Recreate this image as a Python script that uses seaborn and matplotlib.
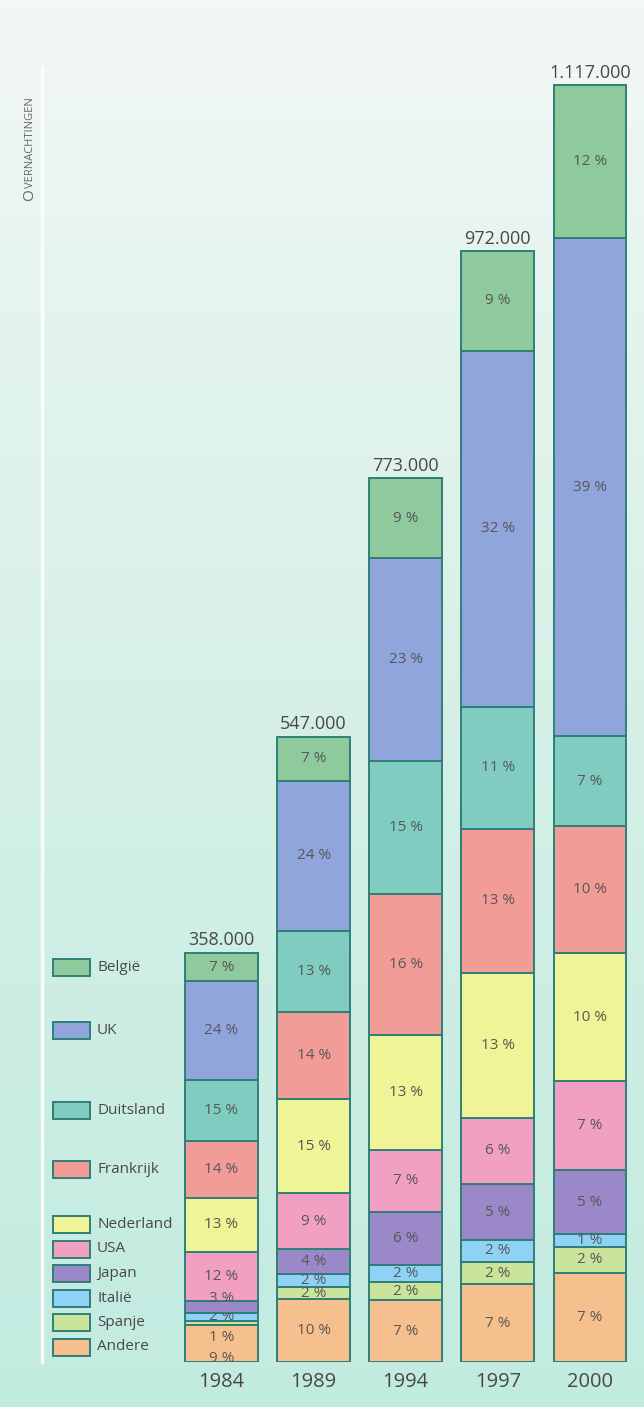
import numpy as np
import matplotlib
matplotlib.use("Agg")
import matplotlib.pyplot as plt
from matplotlib.patches import Rectangle
from matplotlib.colors import LinearSegmentedColormap
import seaborn as sns

# ---------------- data ----------------
years = ["1984", "1989", "1994", "1997", "2000"]
totals = [358000, 547000, 773000, 972000, 1117000]
total_labels = ["358.000", "547.000", "773.000", "972.000", "1.117.000"]

# stacked from bottom to top
countries = ["Andere", "Spanje", "Italië", "Japan", "USA",
             "Nederland", "Frankrijk", "Duitsland", "UK", "België"]
pct_andere = [9, 10, 7, 7, 7]
pct_spanje = [1, 2, 2, 2, 2]
pct_italie = [2, 2, 2, 2, 1]
pct_japan = [3, 4, 6, 5, 5]
pct_usa = [12, 9, 7, 6, 7]
pct_nederland = [13, 15, 13, 13, 10]
pct_frankrijk = [14, 14, 16, 13, 10]
pct_duitsland = [15, 13, 15, 11, 7]
pct_uk = [24, 24, 23, 32, 39]
pct_belgie = [7, 7, 9, 9, 12]
pcts = dict(zip(countries, [pct_andere, pct_spanje, pct_italie, pct_japan, pct_usa,
                            pct_nederland, pct_frankrijk, pct_duitsland, pct_uk, pct_belgie]))

colors = {
    "België": "#8fca9c",
    "UK": "#8fa5dc",
    "Duitsland": "#80ccc0",
    "Frankrijk": "#f29c98",
    "Nederland": "#eff497",
    "USA": "#f2a0c2",
    "Japan": "#9b88c9",
    "Italië": "#90d2f6",
    "Spanje": "#cbe49c",
    "Andere": "#f6c08e",
}
edge = "#2f7f78"
text_col = "#484848"

# label tweaks (points) and clipping for tiny segments
label_offsets = {("1984", "Spanje"): -10, ("1984", "Andere"): -11, ("1984", "Japan"): 6}
clipped = {("1984", "Italië"), ("1984", "Andere"), ("1994", "Italië"), ("2000", "Italië")}

# ---------------- figure ----------------
sns.set_style("white")
plt.rcParams["font.family"] = ["Open Sans", "DejaVu Sans"]

W_PX, H_PX = 644, 1407
fig = plt.figure(figsize=(W_PX / 100, H_PX / 100), dpi=100)

# background gradient
bg = fig.add_axes([0, 0, 1, 1])
cmap = LinearSegmentedColormap.from_list(
    "bg", [(0.0, "#f4f8f5"), (0.15, "#e8f5f0"), (0.5, "#d6f0e8"), (1.0, "#c2ebe0")])
grad = np.linspace(0, 1, 256).reshape(-1, 1)
bg.imshow(grad, aspect="auto", cmap=cmap, extent=[0, 1, 0, 1], origin="upper")
bg.axis("off")

base_px, top_px, left_px = 1362, 67, 42
px_per_unit = 1.143 / 1000
px_per_cat = 92.1
c0_px = 221.5

ax = fig.add_axes([left_px / W_PX, (H_PX - base_px) / H_PX,
                   1 - left_px / W_PX, (base_px - top_px) / H_PX])
ax.set_facecolor("none")

bottom = np.zeros(len(years))
seg_info = []
for c in countries:
    vals = np.array(totals, dtype=float) * np.array(pcts[c]) / 100.0
    n_before = len(ax.patches)
    sns.barplot(x=years, y=vals, bottom=bottom.copy(), color=colors[c], width=0.79,
                edgecolor=edge, linewidth=1.4, saturation=1, ax=ax, zorder=2)
    new_patches = ax.patches[n_before:]
    for i, y in enumerate(years):
        seg_info.append((y, c, i, bottom[i] + vals[i] / 2, pcts[c][i],
                         new_patches[i] if i < len(new_patches) else None))
    bottom = bottom + vals

# percent labels
for y, c, i, yc, p, patch in seg_info:
    off = label_offsets.get((y, c), 0)
    t = ax.annotate(f"{p} %", (i, yc), xytext=(0, off), textcoords="offset points",
                    ha="center", va="center", fontsize=11, color="#575757", zorder=5)
    if (y, c) in clipped and patch is not None:
        t.set_clip_path(patch)

# totals
for i, lab in enumerate(total_labels):
    ax.annotate(lab, (i, totals[i]), xytext=(0, 2.5), textcoords="offset points",
                ha="center", va="bottom", fontsize=13, color=text_col)

# axes limits and styling
ax.set_xlim((left_px - c0_px) / px_per_cat, (W_PX - c0_px) / px_per_cat)
ax.set_ylim(0, (base_px - top_px) / px_per_unit)
for s in ["top", "right", "bottom"]:
    ax.spines[s].set_visible(False)
ax.spines["left"].set_color("white")
ax.spines["left"].set_linewidth(2.5)
ax.spines["left"].set_alpha(0.85)
ax.set_yticks([])
ax.set_xlabel("")
ax.set_ylabel("")
ax.tick_params(axis="x", length=0, pad=7, labelsize=14.5, labelcolor=text_col)

# legend (custom, aligned with the 1984 bar)
legend_order = ["België", "UK", "Duitsland", "Frankrijk", "Nederland",
                "USA", "Japan", "Italië", "Spanje", "Andere"]
cum1984 = {}
acc = 0.0
for c in countries:
    v = totals[0] * pcts[c][0] / 100.0
    cum1984[c] = acc + v / 2
    acc += v
legend_y = {}
for c in ["België", "UK", "Duitsland", "Frankrijk"]:
    legend_y[c] = cum1984[c]
step = 24.5 / px_per_unit
start = 15 / px_per_unit
for k, c in enumerate(["Andere", "Spanje", "Italië", "Japan", "USA", "Nederland"]):
    legend_y[c] = start + k * step

px_x = lambda px: (px - c0_px) / px_per_cat
box_h = 17 / px_per_unit
for c in legend_order:
    yc = legend_y[c]
    ax.add_patch(Rectangle((px_x(53), yc - box_h / 2), px_x(90) - px_x(53), box_h,
                           facecolor=colors[c], edgecolor=edge, linewidth=1.4,
                           clip_on=False, zorder=3))
    ax.text(px_x(97), yc, c, ha="left", va="center", fontsize=11, color=text_col,
            clip_on=False)

# vertical small-caps title
fig.text(33 / W_PX, (H_PX - 201) / H_PX, "O", rotation=90, rotation_mode="anchor",
         ha="left", va="baseline", fontsize=11, color="#666666")
fig.text(33 / W_PX, (H_PX - 188) / H_PX, "VERNACHTINGEN", rotation=90,
         rotation_mode="anchor", ha="left", va="baseline", fontsize=8, color="#666666")

fig.savefig("out.png", dpi=100)
